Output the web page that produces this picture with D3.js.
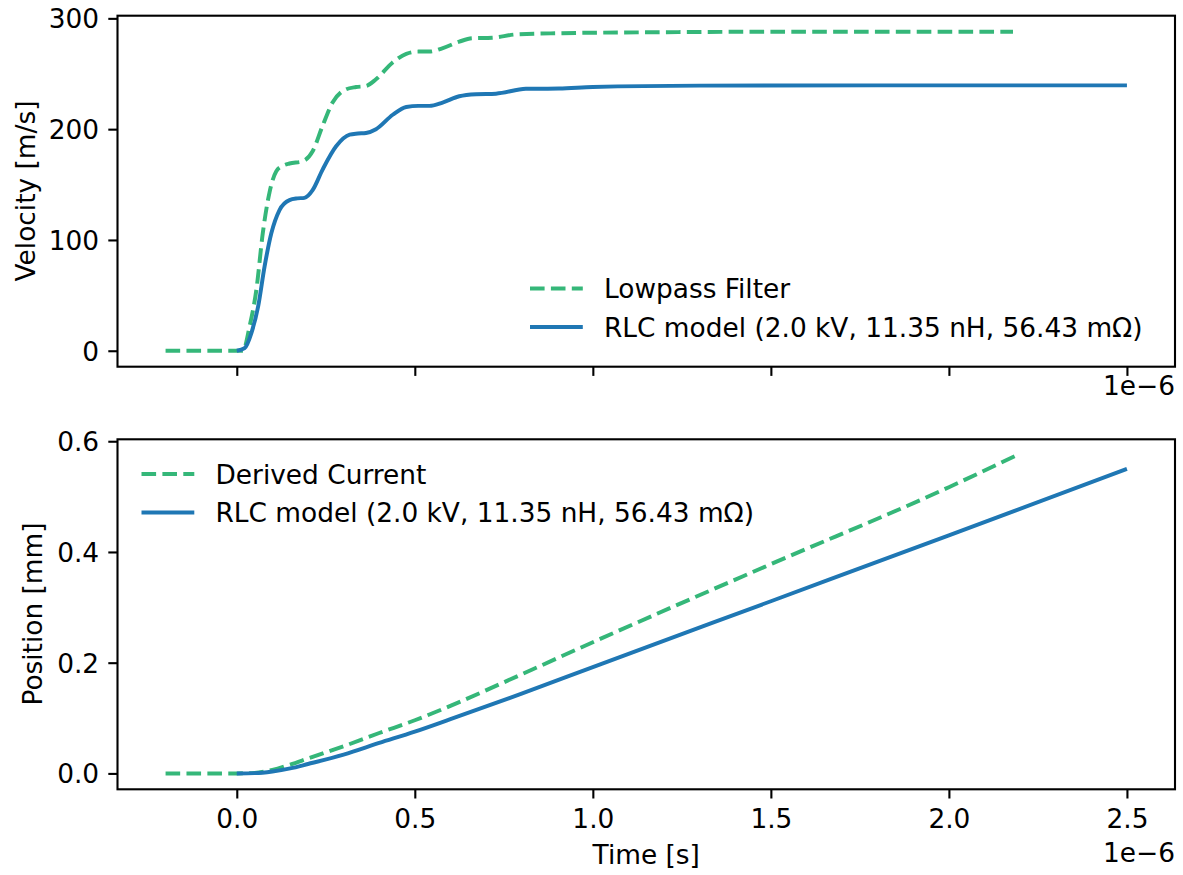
<!DOCTYPE html>
<html>
<head>
	<title>Velocity and Position</title>
	<script src="https://d3js.org/d3.v7.min.js" charset="utf-8"></script>
	<style>
		body { margin: 0; background: #fff; }
		text { font-family: "DejaVu Sans", sans-serif; fill: #000; }
	</style>
</head>
<body>
	<svg width="1183" height="875"></svg>
	<script>
		// time axis in microseconds (offset text shows 1e-6)
		const xTicks = [0.0, 0.5, 1.0, 1.5, 2.0, 2.5];
		const velTicks = [0, 100, 200, 300];
		const posTicks = [0.0, 0.2, 0.4, 0.6];

		// top panel: velocity [m/s]
		const tLowpass = [-0.2, 0.0, 0.017, 0.036, 0.055, 0.073, 0.092, 0.111, 0.13, 0.148, 0.185, 0.213, 0.241, 0.269, 0.307, 0.335, 0.363, 0.391, 0.437, 0.476, 0.51, 0.541, 0.577, 0.625, 0.661, 0.717, 0.784, 0.905, 1.2, 1.6, 2.18];
		const vLowpass = [0, 0, 0, 22, 55, 106, 143, 162, 167, 169, 171, 180, 203, 224, 236, 238, 239, 245, 260, 268, 270, 270, 273, 279, 282, 282.5, 285.5, 286.6, 287.5, 288, 288];

		const tRlcVel = [0, 0.022, 0.041, 0.06, 0.078, 0.097, 0.12, 0.148, 0.17, 0.19, 0.213, 0.241, 0.279, 0.317, 0.34, 0.363, 0.391, 0.438, 0.476, 0.51, 0.541, 0.578, 0.625, 0.672, 0.728, 0.812, 0.905, 1.0, 1.3, 1.8, 2.5];
		const vRlc = [0, 2.4, 16, 40, 76, 106, 127, 136, 137.5, 138, 145, 163.5, 184.5, 195, 196, 196.6, 200, 213, 220, 221, 221, 224, 229.7, 231.5, 232, 236.4, 236.7, 238, 239.3, 239.5, 239.5];

		// bottom panel: position [mm]
		const tDerived = [-0.2, 0.0, 0.05, 0.1, 0.15, 0.2, 0.3, 0.4, 0.5, 0.6, 0.8, 1.0, 1.5, 2.0, 2.185];
		const pDerived = [0, 0, 0.001, 0.0065, 0.016, 0.027, 0.049, 0.073, 0.096, 0.122, 0.179, 0.237, 0.378, 0.517, 0.573];

		const tRlcPos = [0, 0.05, 0.1, 0.15, 0.2, 0.3, 0.4, 0.5, 0.6, 0.8, 1.0, 1.5, 2.0, 2.5];
		const pRlc = [0, 0.0005, 0.0035, 0.009, 0.017, 0.034, 0.055, 0.0755, 0.098, 0.144, 0.192, 0.311, 0.43, 0.55];

		const legendLabel = "RLC model (2.0 kV, 11.35 nH, 56.43 m\u03a9)";
		const green = "#35b779";
		const blue = "#1f77b4";

		const svg = d3.select("svg");
		const left = 117.5, right = 1175;
		const tickLen = 9.2, lw = 3.96, dash = "14.6,6.3";

		const x = d3.scaleLinear().domain([-0.335, 2.635]).range([left, right]);

		function panel(y0, y1, yDomain, yTicks, fmt, showLabels) {
			const y = d3.scaleLinear().domain(yDomain).range([y1, y0]);
			const g = svg.append("g");

			const ax = g.append("g").attr("transform", `translate(0,${y1})`)
				.call(d3.axisBottom(x).tickValues(xTicks).tickSize(tickLen).tickPadding(9.2)
					.tickFormat(showLabels ? d3.format(".1f") : ""));
			const ay = g.append("g").attr("transform", `translate(${left},0)`)
				.call(d3.axisLeft(y).tickValues(yTicks).tickSize(tickLen).tickPadding(9.2).tickFormat(fmt));
			[ax, ay].forEach(a => {
				a.select(".domain").remove();
				a.selectAll("line").attr("stroke", "#000").attr("stroke-width", 2.1);
				a.selectAll("text").style("font-size", "26.4px").attr("fill", "#000");
			});
			ax.selectAll("text").attr("dy", "0.76em");
			ay.selectAll("text").attr("dy", "0.36em");

			g.append("rect").attr("x", left).attr("y", y0)
				.attr("width", right - left).attr("height", y1 - y0)
				.attr("fill", "none").attr("stroke", "#000").attr("stroke-width", 2.1);
			return { g, y };
		}

		function drawLine(p, ts, vs, color, dashed) {
			const pts = ts.map((t, i) => [t, vs[i]]);
			p.g.append("path").datum(pts)
				.attr("fill", "none").attr("stroke", color).attr("stroke-width", lw)
				.attr("stroke-dasharray", dashed ? dash : null)
				.attr("d", d3.line().x(d => x(d[0])).y(d => p.y(d[1])).curve(d3.curveMonotoneX));
		}

		function legend(x0, y0, items) {
			items.forEach((it, i) => {
				const yy = y0 + i * 38.5;
				svg.append("line").attr("x1", x0).attr("x2", x0 + 52.8).attr("y1", yy).attr("y2", yy)
					.attr("stroke", it.color).attr("stroke-width", lw)
					.attr("stroke-dasharray", it.dashed ? dash : null);
				svg.append("text").attr("x", x0 + 74).attr("y", yy).attr("dy", "0.36em")
					.style("font-size", "26.4px").text(it.label);
			});
		}

		// top: velocity
		const velPanel = panel(15.7, 366.7, [-14.4, 302.4], velTicks, d3.format("d"), false);
		drawLine(velPanel, tLowpass, vLowpass, green, true);
		drawLine(velPanel, tRlcVel, vRlc, blue, false);
		legend(530, 288.5, [
			{ label: "Lowpass Filter", color: green, dashed: true },
			{ label: legendLabel, color: blue, dashed: false }
		]);

		// bottom: position
		const posPanel = panel(439.3, 789.3, [-0.0287, 0.6035], posTicks, d3.format(".1f"), true);
		drawLine(posPanel, tDerived, pDerived, green, true);
		drawLine(posPanel, tRlcPos, pRlc, blue, false);
		legend(141.5, 474, [
			{ label: "Derived Current", color: green, dashed: true },
			{ label: legendLabel, color: blue, dashed: false }
		]);

		// axis labels and offset text
		svg.append("text").attr("transform", "translate(25,191) rotate(-90)")
			.attr("text-anchor", "middle").attr("dy", "0.36em").style("font-size", "26.4px").text("Velocity [m/s]");
		svg.append("text").attr("transform", "translate(32,614) rotate(-90)")
			.attr("text-anchor", "middle").attr("dy", "0.36em").style("font-size", "26.4px").text("Position [mm]");
		svg.append("text").attr("x", (left + right) / 2).attr("y", 864)
			.attr("text-anchor", "middle").style("font-size", "26.4px").text("Time [s]");
		svg.append("text").attr("x", right).attr("y", 395)
			.attr("text-anchor", "end").style("font-size", "26.4px").text("1e\u22126");
		svg.append("text").attr("x", right).attr("y", 861.7)
			.attr("text-anchor", "end").style("font-size", "26.4px").text("1e\u22126");
	</script>
</body>
</html>
